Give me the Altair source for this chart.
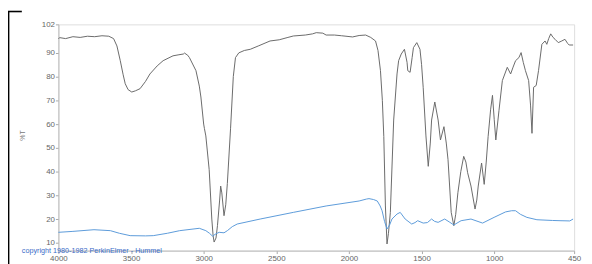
import altair as alt
import pandas as pd

# Sample spectrum (gray), wavenumber cm-1 and %T
wn_sample = [4000, 3990, 3950, 3900, 3850, 3800, 3750, 3700, 3653, 3620, 3597, 3574, 3555, 3540,
             3520, 3495, 3470, 3438, 3400, 3370, 3320, 3279, 3211, 3170, 3140, 3132, 3110, 3098,
             3053, 3030, 3019, 3000, 2995, 2985, 2962, 2944, 2935, 2928, 2915, 2905, 2890, 2883,
             2875, 2860, 2848, 2837, 2815, 2796, 2781, 2758, 2720, 2679, 2620, 2543, 2480, 2420,
             2383, 2300, 2250, 2225, 2180, 2157, 2100, 2050, 1975, 1930, 1885, 1850, 1817, 1800,
             1783, 1770, 1760, 1749, 1738, 1728, 1715, 1692, 1669, 1658, 1640, 1618, 1600, 1595,
             1579, 1565, 1556, 1533, 1511, 1500, 1489, 1470, 1454, 1440, 1431, 1409, 1386, 1370,
             1346, 1330, 1318, 1296, 1278, 1265, 1250, 1230, 1210, 1195, 1183, 1160, 1132, 1120,
             1110, 1087, 1069, 1055, 1042, 1025, 1012, 1000, 989, 967, 944, 910, 887, 870, 853,
             830, 815, 800, 785, 763, 750, 740, 729, 711, 695, 672, 650, 638, 625, 611, 595, 581,
             559, 535, 513, 495, 484, 457]
t_sample = [96.0, 96.4, 96.0, 96.8, 96.5, 97.0, 96.8, 97.2, 97.0, 96.0, 92.9, 86.7, 81.0, 77.0,
            74.5, 73.5, 74.0, 74.9, 78.0, 81.1, 84.5, 86.7, 88.75, 89.2, 89.5, 89.9, 89.0, 88.0,
            82.5, 76.0, 71.4, 60.0, 58.2, 55.0, 40.8, 20.0, 13.0, 10.3, 12.0, 17.2, 28.0, 33.9,
            31.0, 21.4, 26.0, 35.0, 58.0, 80.0, 88.0, 90.0, 91.0, 91.5, 93.0, 95.0, 95.5, 96.5,
            97.1, 97.5, 98.0, 98.5, 98.3, 97.5, 97.5, 97.2, 96.7, 97.3, 97.5, 96.5, 95.0, 91.0,
            82.5, 70.0, 54.7, 25.5, 9.5, 14.0, 22.8, 61.7, 81.1, 86.7, 89.5, 91.5, 86.0, 82.5,
            81.8, 88.0, 92.2, 94.3, 91.5, 85.0, 75.5, 55.0, 42.2, 52.0, 61.7, 69.3, 61.7, 53.3,
            58.9, 52.0, 45.0, 22.8, 17.2, 22.0, 31.1, 40.0, 46.4, 44.0, 39.5, 33.9, 24.2, 28.0,
            33.9, 43.6, 34.6, 44.0, 54.7, 66.0, 72.1, 62.0, 53.3, 65.8, 78.3, 83.9, 81.1, 84.0, 86.7,
            88.0, 90.1, 86.0, 82.5, 78.3, 68.0, 56.1, 75.5, 76.25, 82.5, 93.6, 95.0, 93.6, 96.0, 98.0, 96.5, 95.7,
            94.3, 95.0, 95.7, 94.0, 93.3, 93.3]

# Reference / baseline trace (blue)
wn_ref = [4000, 3900, 3755, 3642, 3580, 3506, 3400, 3347, 3250, 3165, 3030, 2985, 2960, 2939,
          2915, 2893, 2860, 2837, 2803, 2769, 2611, 2383, 2157, 1930, 1880, 1862, 1830, 1805,
          1785, 1772, 1755, 1738, 1720, 1704, 1669, 1647, 1613, 1568, 1545, 1527, 1489, 1460,
          1431, 1410, 1386, 1341, 1310, 1278, 1228, 1160, 1080, 1001, 922, 880, 853, 820, 775,
          706, 600, 547, 480, 457]
t_ref = [14.4, 14.8, 15.5, 15.1, 14.0, 13.0, 12.9, 13.0, 14.0, 15.1, 16.1, 15.1, 14.0, 12.8,
         13.8, 14.4, 14.2, 15.1, 16.8, 17.9, 20.0, 22.8, 25.5, 27.6, 28.4, 28.6, 28.2, 27.6,
         25.5, 23.5, 19.0, 15.8, 17.5, 20.0, 22.1, 22.8, 20.0, 17.9, 18.5, 19.3, 18.3, 18.5,
         20.0, 19.0, 18.6, 20.0, 18.8, 17.5, 19.3, 20.0, 18.3, 20.7, 23.0, 23.5, 23.5, 22.0, 20.7,
         19.7, 19.4, 19.3, 19.2, 20.0]

x_ticks = [4000, 3500, 3000, 2500, 2000, 1500, 1000, 450]
y_ticks = [10, 20, 30, 40, 50, 60, 70, 80, 90, 102]

df = pd.concat([
    pd.DataFrame({"wn": wn_sample, "t": t_sample, "s": "sample"}),
    pd.DataFrame({"wn": wn_ref, "t": t_ref, "s": "ref"}),
])

FONT = "Liberation Sans"
x = alt.X("wn:Q", scale=alt.Scale(domain=[4000, 450], nice=False, zero=False),
          axis=alt.Axis(values=x_ticks, format="d", title=None, grid=False, labelFlush=False,
                        labelFontSize=8, labelColor="#666", labelFont=FONT,
                        tickColor="#aaa", domainColor="#bbb", tickSize=3, labelPadding=1))
y = alt.Y("t:Q", scale=alt.Scale(domain=[6.7, 102], nice=False, zero=False),
          axis=alt.Axis(values=y_ticks, format="d", title="%T", grid=False, labelFlush=False,
                        labelFontSize=8, labelColor="#666", labelFont=FONT,
                        tickColor="#aaa", domainColor="#bbb", tickSize=3, labelPadding=1,
                        titleFontSize=7, titleColor="#777", titleFont=FONT,
                        titleFontWeight="normal", titleX=-33, titleY=112, titleAngle=270))

lines = alt.Chart(df).mark_line(strokeWidth=1, interpolate="linear").encode(
    x=x, y=y,
    color=alt.Color("s:N", scale=alt.Scale(domain=["sample", "ref"], range=["#6a6a6a", "#5b9ad9"]),
                    legend=None),
    detail="s:N",
)

copyright = alt.Chart(pd.DataFrame({"txt": ["copyright 1980-1982 PerkinElmer - Hummel"]})).mark_text(
    align="left", baseline="middle", fontSize=7.3, color="#3a6cc8", font=FONT
).encode(x=alt.value(-37), y=alt.value(229.5), text="txt:N")

frame_v = alt.Chart(pd.DataFrame({"a": [0]})).mark_rule(color="#000", strokeWidth=1.6).encode(
    x=alt.value(-50.4), y=alt.value(-13), y2=alt.value(245))
frame_h = alt.Chart(pd.DataFrame({"a": [0]})).mark_rule(color="#000", strokeWidth=1.6).encode(
    x=alt.value(-51), x2=alt.value(-37), y=alt.value(-13))

chart = alt.layer(lines, copyright, frame_v, frame_h).properties(
    width=522, height=229,
    autosize=alt.AutoSizeParams(type="none"),
    padding={"left": 51, "top": 15, "right": 10, "bottom": 12},
).configure_view(stroke=None).configure(background="white")

chart.save("out.html", embed_options={"renderer": "svg", "actions": False})
